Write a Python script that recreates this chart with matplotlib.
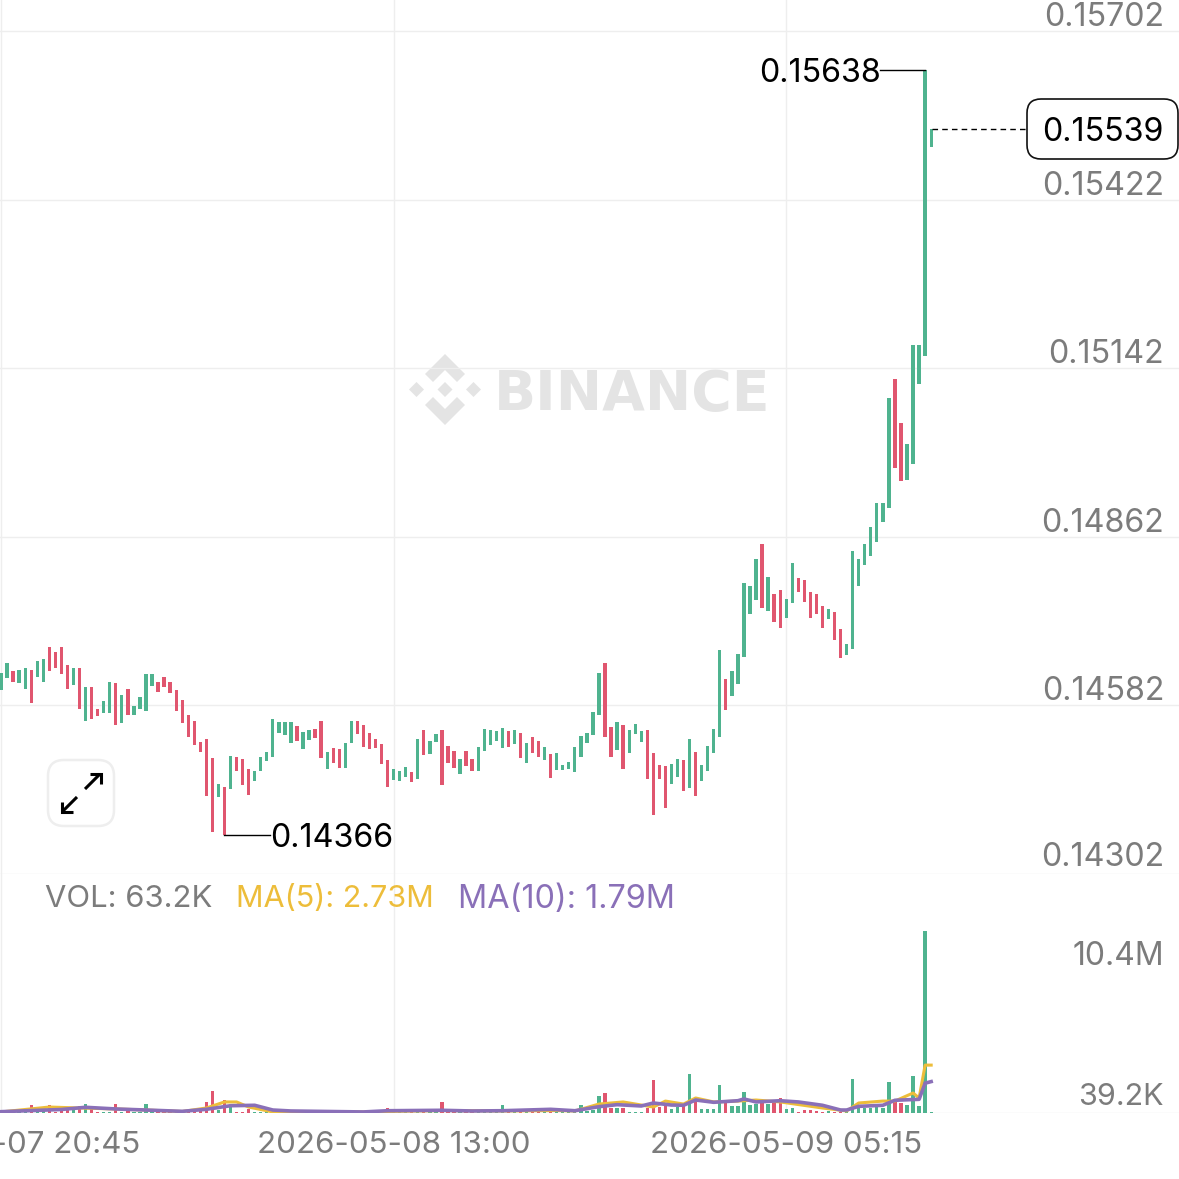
import matplotlib
matplotlib.use('Agg')
import matplotlib.pyplot as plt
from matplotlib.patches import FancyBboxPatch, Polygon

plt.rcParams['font.family'] = ['Inter', 'DejaVu Sans']

W = 1179
DPI = 100
GREEN = '#4fb38f'
RED = '#e0566f'
GRID = '#eeeeee'
GREY = '#7c7c7c'
YELLOW = '#edbd3a'
PURPLE = '#8a70b8'
WATERMARK = '#e4e4e4'
PRICE_SIZE = 23.2

### 15 min candles, one value per bar
highs = [
    14636, 14652, 14639, 14641, 14644, 14641, 14656, 14659, 14679, 14671,
    14679, 14649, 14644, 14644, 14613, 14613, 14576, 14589, 14621, 14619,
    14599, 14609, 14581, 14596, 14634, 14634, 14621, 14629, 14621, 14608,
    14591, 14566, 14556, 14521, 14526, 14495, 14452, 14447, 14498, 14496,
    14493, 14476, 14473, 14496, 14505, 14559, 14554, 14554, 14554, 14548,
    14538, 14541, 14543, 14556, 14505, 14511, 14510, 14520, 14556, 14556,
    14549, 14536, 14526, 14518, 14491, 14476, 14473, 14480, 14471, 14526,
    14541, 14523, 14535, 14541, 14515, 14506, 14493, 14506, 14493, 14513,
    14543, 14541, 14540, 14545, 14540, 14541, 14536, 14520, 14530, 14523,
    14513, 14501, 14503, 14483, 14488, 14513, 14531, 14536, 14571, 14636,
    14652, 14546, 14554, 14549, 14541, 14551, 14540, 14541, 14503, 14483,
    14481, 14485, 14493, 14491, 14526, 14505, 14483, 14515, 14543, 14674,
    14626, 14639, 14667, 14785, 14780, 14825, 14850, 14795, 14767, 14774,
    14759, 14819, 14794, 14790, 14770, 14767, 14747, 14742, 14737, 14709,
    14684, 14838, 14825, 14850, 14878, 14918, 14918, 15093, 15124, 15051,
    15016, 15181, 15181, 15638, 15539,
]
lows = [
    14608, 14628, 14621, 14619, 14609, 14586, 14629, 14621, 14639, 14644,
    14634, 14609, 14616, 14576, 14556, 14559, 14564, 14569, 14569, 14549,
    14553, 14566, 14566, 14576, 14573, 14614, 14604, 14613, 14603, 14573,
    14553, 14530, 14516, 14505, 14432, 14372, 14430, 14366, 14443, 14473,
    14450, 14433, 14456, 14473, 14490, 14496, 14536, 14533, 14520, 14523,
    14510, 14525, 14528, 14495, 14476, 14486, 14478, 14478, 14520, 14535,
    14513, 14510, 14511, 14485, 14447, 14458, 14456, 14463, 14455, 14460,
    14500, 14501, 14521, 14450, 14486, 14478, 14468, 14481, 14473, 14473,
    14506, 14516, 14523, 14511, 14513, 14518, 14495, 14486, 14503, 14496,
    14491, 14461, 14475, 14475, 14476, 14471, 14496, 14520, 14533, 14566,
    14530, 14496, 14508, 14476, 14503, 14535, 14521, 14460, 14400, 14460,
    14412, 14452, 14463, 14440, 14445, 14432, 14456, 14473, 14503, 14530,
    14574, 14598, 14618, 14662, 14734, 14757, 14744, 14739, 14721, 14711,
    14727, 14752, 14770, 14754, 14727, 14734, 14711, 14726, 14691, 14661,
    14666, 14676, 14780, 14815, 14830, 14853, 14887, 14910, 14976, 14955,
    14956, 14983, 15116, 15162, 15509,
]
# G = up bar, R = down bar
sides = (
    'GGRGGRGGRR' 'RRGRGRRGGR' 'GRGGGGRRRR' 'RRRRRRGRGR' 'RRGGGGGGGR'
    'GGRRGRRGGR' 'RRRRRGGGRG' 'RGGRRRGRRG' 'GGGGRGRGRR' 'GRGGGGGGGG'
    'RRGRGGGRRR' 'RGGRGRGGGG' 'RGGGGGRGRR' 'GGRRRRRGRR' 'GGGGGGGGRR'
    'GGGGG'
)
# volume in thousands
volumes = [
    40, 40, 30, 30, 50, 460, 170, 340, 460, 60,
    290, 290, 230, 400, 510, 230, 40, 40, 40, 510,
    40, 115, 40, 40, 510, 170, 40, 40, 40, 40,
    40, 40, 60, 115, 630, 1250, 170, 740, 400, 60,
    60, 230, 40, 40, 40, 60, 40, 40, 115, 40,
    40, 40, 40, 40, 40, 40, 40, 40, 40, 40,
    40, 40, 40, 40, 285, 170, 40, 40, 40, 170,
    40, 40, 40, 630, 40, 115, 40, 40, 40, 40,
    40, 40, 40, 460, 115, 115, 115, 40, 60, 60,
    60, 285, 60, 40, 40, 115, 460, 115, 170, 970,
    1140, 285, 285, 285, 60, 40, 40, 285, 1880, 340,
    400, 230, 340, 400, 2220, 680, 230, 230, 230, 1600,
    570, 400, 400, 1200, 460, 510, 630, 510, 570, 855,
    230, 285, 40, 170, 170, 115, 60, 115, 40, 60,
    40, 1940, 285, 285, 285, 340, 285, 1770, 630, 570,
    460, 2110, 400, 10400, 63.2,
]
ma5_idx = [0, 8, 13, 19, 24, 30, 34, 37, 39, 41, 45, 48, 60, 73, 83, 92, 95, 99, 103, 106,
           108, 110, 113, 115, 118, 122, 125, 129, 136, 140, 142, 146, 148, 151, 152, 153, 154]
ma5 = [60, 340, 285, 230, 170, 85, 285, 630, 630, 340, 60, 85, 60, 140, 115, 140, 115, 510, 630, 455,
       340, 680, 510, 855, 630, 680, 740, 630, 285, 115, 570, 680, 680, 1140, 855, 2730, 2730]
ma10_idx = [0, 10, 14, 19, 24, 30, 34, 38, 42, 45, 48, 60, 64, 73, 78, 83, 91, 95, 99, 102, 106,
            108, 111, 113, 115, 118, 122, 123, 125, 129, 132, 136, 139, 140, 142, 146, 148, 152, 153, 154]
ma10 = [75, 200, 325, 230, 170, 95, 210, 415, 440, 170, 115, 60, 130, 155, 115, 130, 210, 130, 360, 475, 400,
        570, 455, 440, 740, 610, 700, 800, 630, 700, 630, 440, 170, 170, 380, 440, 725, 780, 1700, 1790]

price_ticks = [15702, 15422, 15142, 14862, 14582, 14302]
date_ticks = [0, 65, 130]
date_labels = ['2026-05-07 20:45', '2026-05-08 13:00', '2026-05-09 05:15']

fig = plt.figure(figsize=(W / DPI, W / DPI), dpi=DPI, facecolor='white')

# pixel layer under the chart for the watermark and the expand button
bg = fig.add_axes([0, 0, 1, 1], zorder=0)
bg.set_xlim(0, W)
bg.set_ylim(W, 0)
bg.axis('off')
cx, cy = 445, 389.5
for dx in (-28.5, 0, 28.5):
    bg.add_patch(Polygon([(cx + dx, cy - 7.5), (cx + dx + 7.5, cy), (cx + dx, cy + 7.5), (cx + dx - 7.5, cy)],
                         color=WATERMARK, lw=0))
for s in (1, -1):
    bg.add_patch(Polygon([(cx, cy - s * 35.5), (cx + 20, cy - s * 15.5), (cx + 12, cy - s * 7.5),
                          (cx, cy - s * 19.5), (cx - 12, cy - s * 7.5), (cx - 20, cy - s * 15.5)],
                         color=WATERMARK, lw=0))
bg.text(632, 389.5, 'BINANCE', color=WATERMARK, fontsize=39.8, fontweight='bold', family='DejaVu Sans',
        ha='center', va='center_baseline')

bg.add_patch(FancyBboxPatch((64, 776), 34, 34, boxstyle='round,pad=16,rounding_size=16',
                            fc='white', ec='#eeeeee', lw=1.8))
for xs, ys in [([85, 100], [789, 774]), ([90, 100.5, 100.5], [774, 774, 784]),
               ([77, 62], [797, 812]), ([62, 62, 72.5], [801.5, 812, 812])]:
    bg.plot(xs, ys, color='black', lw=2.2, solid_capstyle='butt', solid_joinstyle='miter')

# price panel
ax = fig.add_axes([0, (W - 874) / W, 1, 874 / W], zorder=1)
ax.patch.set_alpha(0)
ax.set_xlim(-0.166, 195.03)
ax.set_ylim(14302, 14302 + 874 * 1.6607)
ax_vol = fig.add_axes([0, (W - 1113) / W, 1, 239 / W], zorder=1)
ax_vol.patch.set_alpha(0)
ax_vol.set_xlim(-0.166, 195.03)
ax_vol.set_ylim(0, 13623)

idx = list(range(len(highs)))
colors = [GREEN if s == 'G' else RED for s in sides]
heights = [h - l for h, l in zip(highs, lows)]
ax.bar(idx, heights, bottom=lows, width=0.55, color=colors, zorder=3)
ax_vol.bar(idx, volumes, width=0.55, color=colors, zorder=3)
ax_vol.plot(ma5_idx, ma5, color=YELLOW, lw=2.2, zorder=4)
ax_vol.plot(ma10_idx, ma10, color=PURPLE, lw=2.6, zorder=5)

for a in (ax, ax_vol):
    for sp in a.spines.values():
        sp.set_visible(False)
    a.set_yticks([])
    for t in date_ticks:
        a.axvline(t, color=GRID, lw=1, zorder=1)
ax.set_xticks([])
ax_vol.set_xticks(date_ticks, date_labels, fontsize=22.5, color=GREY)
ax_vol.tick_params(axis='x', length=0, pad=13)
ax_vol.axhline(0, color=GRID, lw=1, zorder=1)

trans = ax.get_yaxis_transform()
for p in price_ticks:
    ax.axhline(p, color=GRID, lw=1, zorder=1)
    ax.annotate('%.5f' % (p / 100000), (1164 / W, p), xycoords=trans, xytext=(0, 20 if p == 14302 else 17),
                textcoords='offset pixels', ha='right', va='center_baseline', fontsize=PRICE_SIZE, color=GREY)

trans_vol = ax_vol.get_yaxis_transform()
ax_vol.text(1164 / W, 9120, '10.4M', transform=trans_vol, ha='right', va='center_baseline', fontsize=23, color=GREY)
ax_vol.text(1164 / W, 1080, '39.2K', transform=trans_vol, ha='right', va='center_baseline', fontsize=22, color=GREY)

fig.text(45 / W, 1 - 896 / W, 'VOL: 63.2K', color=GREY, fontsize=22.3, va='center_baseline')
fig.text(236 / W, 1 - 896 / W, 'MA(5): 2.73M', color=YELLOW, fontsize=22, va='center_baseline')
fig.text(458 / W, 1 - 896 / W, 'MA(10): 1.79M', color=PURPLE, fontsize=23.3, va='center_baseline')

# high, low and last price marks
ax.plot([145.6, 153], [15638, 15638], color='black', lw=1, zorder=6)
ax.text(145.6, 15638, '0.15638', ha='right', va='center_baseline', fontsize=PRICE_SIZE, color='black')
ax.plot([37, 44.6], [14366, 14366], color='black', lw=1, zorder=6)
ax.text(44.6, 14366, '0.14366', ha='left', va='center_baseline', fontsize=PRICE_SIZE, color='black')
ax.plot([154.2, 170.1], [15539, 15539], color='black', lw=1, ls=(0, (4, 3)), zorder=6)

ax.add_patch(FancyBboxPatch((1041, 113), 123, 32, boxstyle='round,pad=14,rounding_size=14',
                            fc='white', ec='#111111', lw=1.2, transform=bg.transData, zorder=7, clip_on=False))
ax.text(1164 / W, 15539, '0.15539', transform=trans, ha='right', va='center_baseline',
        fontsize=PRICE_SIZE, color='black', zorder=8)

fig.savefig('out.png', dpi=DPI)
